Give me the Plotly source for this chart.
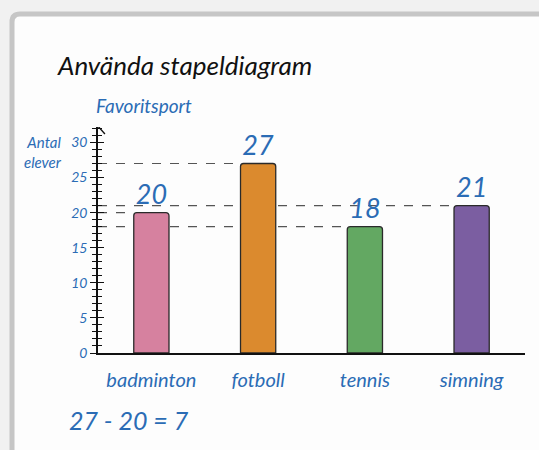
import plotly.graph_objects as go

categories = ["badminton", "fotboll", "tennis", "simning"]
values = [20, 27, 18, 21]
colors = ["#d6819f", "#db8a2e", "#63a862", "#7b5ea1"]
y_ticks = [0, 5, 10, 15, 20, 25, 30]

BLUE = "#2b6cb5"
FONT = "Lato"
W, H = 539, 450
L, R, T, B = 98, 14, 127, 97
BAR_W = 0.33

def px(x):
    return (x - L) / (W - L - R)

def py(y):
    return (H - B - y) / (H - T - B)

fig = go.Figure()
fig.add_trace(go.Bar(
    x=list(range(len(categories))), y=values, width=BAR_W,
    marker=dict(color=colors, line=dict(color="#2a2a2a", width=1.3), cornerradius=3),
    text=[str(v) for v in values], textposition="outside", cliponaxis=False,
    textfont=dict(family=FONT, size=27, color=BLUE, style="italic"),
    hoverinfo="skip", showlegend=False,
))
# invisible trace to create the overlay axis (ticks inside)
fig.add_trace(go.Scatter(x=list(range(len(categories))), y=values, yaxis="y2",
                         mode="markers", marker=dict(opacity=0), hoverinfo="skip", showlegend=False))

shapes = []
# card
shapes.append(dict(type="path", xref="paper", yref="paper", layer="below",
                   path=f"M {px(12)},{py(600)} L {px(12)},{py(22)} Q {px(12)},{py(14)} {px(20)},{py(14)} L {px(700)},{py(14)} L {px(700)},{py(600)} Z",
                   fillcolor="#fdfdfd", line=dict(color="#c6c6c6", width=5)))
# dashed reference lines
for i, v in enumerate(values):
    shapes.append(dict(type="line", xref="x", yref="y", layer="below",
                       x0=-0.5, x1=i - BAR_W / 2, y0=v, y1=v,
                       line=dict(color="#555555", width=1.2, dash="dash")))
# arrow head on y axis
shapes.append(dict(type="path", xref="x", yref="y",
                   path="M -0.565,31.2 L -0.5,32.3 L -0.435,31.2",
                   line=dict(color="#111111", width=1.4)))

annotations = [
    dict(text="Använda stapeldiagram", x=px(55), y=py(65), xref="paper", yref="paper",
         xanchor="left", yanchor="middle", showarrow=False,
         font=dict(family=FONT, size=26, color="#111111", style="italic")),
    dict(text="Favoritsport", x=px(94), y=py(105), xref="paper", yref="paper",
         xanchor="left", yanchor="middle", showarrow=False,
         font=dict(family=FONT, size=19, color=BLUE, style="italic")),
    dict(text="Antal<br>elever", x=px(64), y=py(152), xref="paper", yref="paper",
         xanchor="right", yanchor="middle", showarrow=False, align="right",
         font=dict(family=FONT, size=15, color=BLUE, style="italic")),
    dict(text="27 - 20 = 7", x=px(67), y=py(420), xref="paper", yref="paper",
         xanchor="left", yanchor="middle", showarrow=False,
         font=dict(family=FONT, size=25, color=BLUE, style="italic")),
]

fig.update_layout(
    width=W, height=H, margin=dict(l=L, r=R, t=T, b=B),
    paper_bgcolor="#f1f1f1", plot_bgcolor="rgba(0,0,0,0)",
    shapes=shapes, annotations=annotations, bargap=0.6,
    xaxis=dict(range=[-0.5, 3.5], tickvals=list(range(len(categories))), ticktext=categories,
               showgrid=False, zeroline=False, showline=True, linecolor="#111111", linewidth=1.5,
               ticks="", ticklabelstandoff=8,
               tickfont=dict(family=FONT, size=20, color=BLUE, style="italic")),
    yaxis=dict(range=[0, 32.2], tickvals=y_ticks, showgrid=False, zeroline=False,
               showline=True, linecolor="#111111", linewidth=1.5,
               ticks="outside", ticklen=6, tickwidth=1.3, tickcolor="#111111",
               minor=dict(dtick=1, ticks="outside", ticklen=4, tickwidth=1.1, tickcolor="#111111"),
               tickfont=dict(family=FONT, size=14, color=BLUE, style="italic")),
    yaxis2=dict(range=[0, 32.2], overlaying="y", side="left", anchor="x", tickvals=y_ticks,
                showgrid=False, zeroline=False, showline=False, showticklabels=False,
                ticks="inside", ticklen=6, tickwidth=1.3, tickcolor="#111111",
                minor=dict(dtick=1, ticks="inside", ticklen=4, tickwidth=1.1, tickcolor="#111111")),
)

fig.write_html("out.html", config={"displayModeBar": False},
               post_script="document.body.style.margin='0';document.body.style.overflow='hidden';")
